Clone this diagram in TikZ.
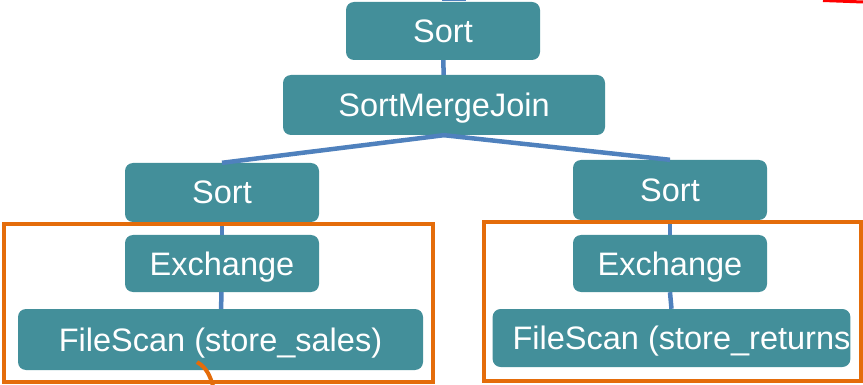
\documentclass[tikz,border=0pt]{standalone}
\usepackage{fontspec}
\setmainfont{Liberation Sans}
\usepackage{tikz,color}

\definecolor{opteal}{HTML}{438F9A}
\definecolor{linkblue}{HTML}{4F81BD}
\definecolor{markorange}{HTML}{E46C0A}

\tikzset{
  op/.style={fill=opteal, rounded corners=8pt, text=white, inner sep=0pt,
    text depth=0pt, font=\fontsize{32.5}{36}\selectfont},
  link/.style={draw=linkblue, line width=4.5pt},
  stage/.style={draw=markorange, line width=4pt}
}

\begin{document}
\begin{tikzpicture}[x=1pt,y=-1pt]
\useasboundingbox (0,0) rectangle (863,385);

\node [op, minimum width=194pt, minimum height=58pt] (sorttop) at (443,31) {Sort};
\node [op, minimum width=322pt, minimum height=60pt] (smj) at (444,105) {SortMergeJoin};
\node [op, minimum width=194pt, minimum height=59pt] (sortl) at (222,192.5) {Sort};
\node [op, minimum width=194pt, minimum height=60pt] (sortr) at (670,190) {Sort};
\node [op, minimum width=194pt, minimum height=57pt] (exl) at (222,263.5) {Exchange};
\node [op, minimum width=194pt, minimum height=57pt] (exr) at (670,263.5) {Exchange};
\node [op, minimum width=405pt, minimum height=61pt] (scanl) at (220.5,339.5) {FileScan (store\_sales)};
\node [op, minimum width=357pt, minimum height=58pt] (scanr) at (671.5,338) {\hspace*{20pt}FileScan (store\_returns};

\draw [link] (sorttop) -- (smj);
\draw [link] (smj.south) -- (sortl.north);
\draw [link] (smj.south) -- (sortr.north);
\draw [link] (sortl) -- (exl);
\draw [link] (exl) -- (scanl);
\draw [link] (sortr) -- (exr);
\draw [link] (exr.south) -- (scanr.north);

\draw [stage] (4,224) rectangle (433,382);
\draw [stage] (484,222) rectangle (861,381);

% cut-off lines at the top edge
\draw [link, line width=2pt] (442,0.5) -- (466,0.5);
\draw [red, line width=3pt] (823,0.5) -- (863,2);

\draw [markorange, line width=4pt] (197,362) .. controls (207,368) and (210,376) .. (213,386);

\end{tikzpicture}
\end{document}
